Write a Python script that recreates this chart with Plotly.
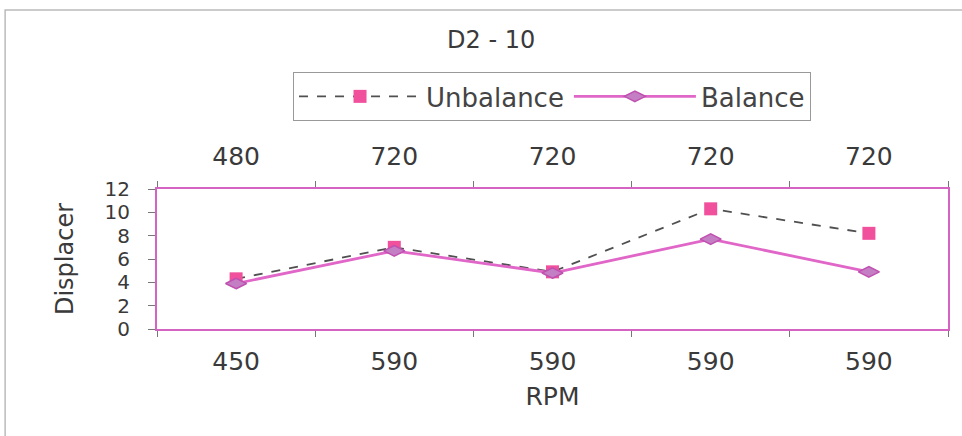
import plotly.graph_objects as go

bottom_labels = ["450", "590", "590", "590", "590"]
top_labels = ["480", "720", "720", "720", "720"]
unbalance = [4.3, 7.0, 4.9, 10.3, 8.2]
balance = [3.9, 6.7, 4.8, 7.7, 4.9]
yticks = [0, 2, 4, 6, 8, 10, 12]

idx = list(range(len(bottom_labels)))
font = "DejaVu Sans, Liberation Sans, sans-serif"
pink = "#d563c2"
txt = "#3a3a3a"

fig = go.Figure()
fig.add_trace(go.Scatter(
    x=idx, y=unbalance, name="Unbalance", mode="lines+markers",
    line=dict(color="#505050", width=1.8, dash="dash"),
    marker=dict(symbol="square", size=13, color="#f0509c"),
))
fig.add_trace(go.Scatter(
    x=idx, y=balance, name="Balance", mode="lines+markers",
    line=dict(color="#e066c8", width=2.8),
    marker=dict(symbol="diamond-wide", size=15, color="#c47fc4",
                line=dict(color="#c050b0", width=1.5)),
))
fig.add_trace(go.Scatter(
    x=idx, y=balance, xaxis="x2", mode="markers", showlegend=False,
    marker=dict(opacity=0), hoverinfo="skip",
))

bounds = [i - 0.5 for i in range(len(idx) + 1)]
fig.update_layout(
    width=962, height=436,
    margin=dict(l=157, r=14, t=189, b=107),
    paper_bgcolor="white", plot_bgcolor="white",
    font=dict(family=font, color=txt),
    showlegend=True,
    legend=dict(orientation="h", x=0.4994, xanchor="center", y=1.836, yanchor="top",
                bordercolor="#999999", borderwidth=1, bgcolor="white",
                font=dict(size=26, color="#444444"), itemwidth=122),
    xaxis=dict(range=[-0.5, len(idx) - 0.5], tickvals=idx, ticktext=bottom_labels,
               ticks="", showgrid=False, zeroline=False, ticklabelstandoff=9,
               showline=True, linecolor=pink, linewidth=2,
               tickfont=dict(size=25, color=txt),
               minor=dict(tickvals=bounds, ticks="outside", ticklen=6, tickcolor="#777777"),
               title=dict(text="RPM", font=dict(size=25, color=txt), standoff=12)),
    xaxis2=dict(range=[-0.5, len(idx) - 0.5], tickvals=idx, ticktext=top_labels,
                overlaying="x", side="top", ticks="", showgrid=False, zeroline=False,
                ticklabelstandoff=12,
                showline=True, linecolor=pink, linewidth=2,
                tickfont=dict(size=25, color=txt),
                minor=dict(tickvals=bounds, ticks="outside", ticklen=6, tickcolor="#777777")),
    yaxis=dict(range=[0, 12], tickvals=yticks, ticks="outside", ticklen=7, tickcolor="#777777",
               showgrid=False, zeroline=False, showline=True, linecolor=pink, linewidth=2,
               mirror=True, tickfont=dict(size=20, color=txt), ticklabelstandoff=14,
               title=dict(text="Displacer", font=dict(size=24, color=txt), standoff=24)),
)
fig.add_annotation(text="D2 - 10", xref="paper", yref="paper", x=0.422, y=2.064,
                   yanchor="middle", showarrow=False, font=dict(size=24, color=txt))
fig.add_shape(type="rect", xref="paper", yref="paper", x0=-0.192, x1=1.05, y0=-1.0, y1=2.279,
              line=dict(color="#bbbbbb", width=1.5))
fig.write_html("out.html")
